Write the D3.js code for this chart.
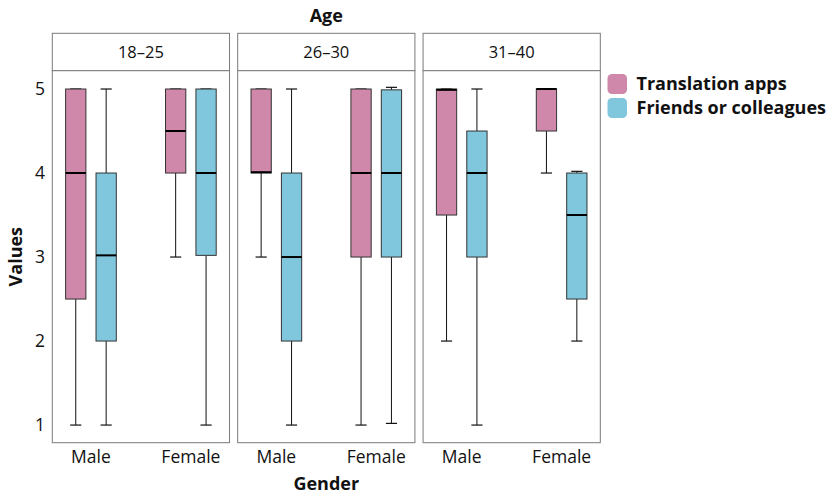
<!DOCTYPE html>
<html>
<head>
<meta charset="utf-8">
<script src="https://cdn.jsdelivr.net/npm/d3@7"></script>
<style>
  html, body { margin: 0; padding: 0; background: #ffffff; }
  svg { display: block; font-family: "Open Sans", "DejaVu Sans", sans-serif; }
</style>
</head>
<body>
<svg id="chart" width="834" height="497"></svg>
<script>
// ---- data ----
const ages = ["18–25", "26–30", "31–40"];
const genders = ["Male", "Female"];
const seriesNames = ["Translation apps", "Friends or colleagues"];
const seriesColors = ["#CF88A9", "#80C7DD"];
const yTicks = [1, 2, 3, 4, 5];
// five-number summaries: [min, q1, median, q3, max], ordered ages x genders
const translationStats = [
  [[1, 2.5, 4, 5, 5], [3, 4, 4.5, 5, 5]],
  [[3, 4, 4.01, 5, 5], [1, 3, 4, 5, 5]],
  [[2, 3.5, 4.99, 5, 5], [4, 4.5, 5, 5, 5]]
];
const friendsStats = [
  [[1, 2, 3.02, 4, 5], [1, 3.02, 4, 5, 5]],
  [[1, 2, 3, 4, 5], [1.02, 3, 4, 4.99, 5.02]],
  [[1, 3, 4, 4.5, 5], [2, 2.5, 3.5, 4, 4.02]]
];
const allStats = [translationStats, friendsStats];

// ---- layout ----
const svg = d3.select("#chart");
const stripTop = 33.3, plotTop = 70.7, plotBottom = 442.7;
const panelX = d3.scaleBand().domain(ages).range([52.3, 600.3]).paddingInner(0.044);
const pw = panelX.bandwidth();
const xCat = d3.scalePoint().domain(genders).range([0, pw]).padding(0.387);
const dodge = d3.scaleBand().domain(seriesNames).range([-30.4, 30.4]).padding(0);
const boxW = dodge.bandwidth() * 0.667;
const capW = boxW * 0.55;
const y = d3.scaleLinear().domain([0.79, 5.218]).range([plotBottom, plotTop]);

// y tick labels
svg.append("g").selectAll("text").data(yTicks).join("text")
  .attr("x", 45).attr("y", d => y(d)).attr("dy", "0.36em")
  .attr("text-anchor", "end").attr("font-size", 17.5).attr("fill", "#111")
  .text(d => d);

ages.forEach((age, ai) => {
  const px = panelX(age);
  const g = svg.append("g").attr("transform", `translate(${px},0)`);
  // strip
  g.append("rect").attr("x", 0).attr("y", stripTop).attr("width", pw).attr("height", plotTop - stripTop)
    .attr("fill", "#fff").attr("stroke", "#7a7a7a").attr("stroke-width", 1);
  g.append("text").attr("x", pw / 2).attr("y", (stripTop + plotTop) / 2).attr("dy", "0.36em")
    .attr("text-anchor", "middle").attr("font-size", 16.5).attr("fill", "#111").text(age);
  // panel border
  g.append("rect").attr("x", 0).attr("y", plotTop).attr("width", pw).attr("height", plotBottom - plotTop)
    .attr("fill", "#fff").attr("stroke", "#7a7a7a").attr("stroke-width", 1);

  genders.forEach((gen, gi) => {
    seriesNames.forEach((s, si) => {
      const st = allStats[si][ai][gi];
      const cx = xCat(gen) + dodge(s) + dodge.bandwidth() / 2;
      const bx = g.append("g");
      // whiskers
      bx.append("line").attr("x1", cx).attr("x2", cx).attr("y1", y(st[0])).attr("y2", y(st[1]))
        .attr("stroke", "#111").attr("stroke-width", 1);
      bx.append("line").attr("x1", cx).attr("x2", cx).attr("y1", y(st[3])).attr("y2", y(st[4]))
        .attr("stroke", "#111").attr("stroke-width", 1);
      // caps
      [st[0], st[4]].forEach(v => {
        bx.append("line").attr("x1", cx - capW / 2).attr("x2", cx + capW / 2)
          .attr("y1", y(v)).attr("y2", y(v)).attr("stroke", "#111").attr("stroke-width", 1.2);
      });
      // box
      bx.append("rect").attr("x", cx - boxW / 2).attr("width", boxW)
        .attr("y", y(st[3])).attr("height", Math.max(0, y(st[1]) - y(st[3])))
        .attr("fill", seriesColors[si]).attr("stroke", "#333").attr("stroke-width", 1);
      // median
      bx.append("line").attr("x1", cx - boxW / 2).attr("x2", cx + boxW / 2)
        .attr("y1", y(st[2])).attr("y2", y(st[2])).attr("stroke", "#000").attr("stroke-width", 2);
    });
    // x label
    g.append("text").attr("x", xCat(gen)).attr("y", 457).attr("dy", "0.36em")
      .attr("text-anchor", "middle").attr("font-size", 17.5).attr("fill", "#111").text(gen);
  });
});

// titles
svg.append("text").attr("x", 326.3).attr("y", 16).attr("dy", "0.36em").attr("text-anchor", "middle")
  .attr("font-size", 18).attr("font-weight", "bold").attr("fill", "#111").text("Age");
svg.append("text").attr("x", 326.3).attr("y", 484).attr("dy", "0.36em").attr("text-anchor", "middle")
  .attr("font-size", 18).attr("font-weight", "bold").attr("fill", "#111").text("Gender");
svg.append("text").attr("transform", `translate(16,${(plotTop + plotBottom) / 2}) rotate(-90)`)
  .attr("dy", "0.36em").attr("text-anchor", "middle")
  .attr("font-size", 18).attr("font-weight", "bold").attr("fill", "#111").text("Values");

// legend
const lg = svg.append("g").attr("transform", "translate(607.5,74)");
seriesNames.forEach((s, i) => {
  lg.append("rect").attr("x", 0).attr("y", i * 24).attr("width", 19.5).attr("height", 20).attr("rx", 4.5)
    .attr("fill", seriesColors[i]);
  lg.append("text").attr("x", 29).attr("y", i * 24 + 10).attr("dy", "0.36em")
    .attr("font-size", 18).attr("font-weight", "bold").attr("fill", "#111").text(s);
});
</script>
</body>
</html>
